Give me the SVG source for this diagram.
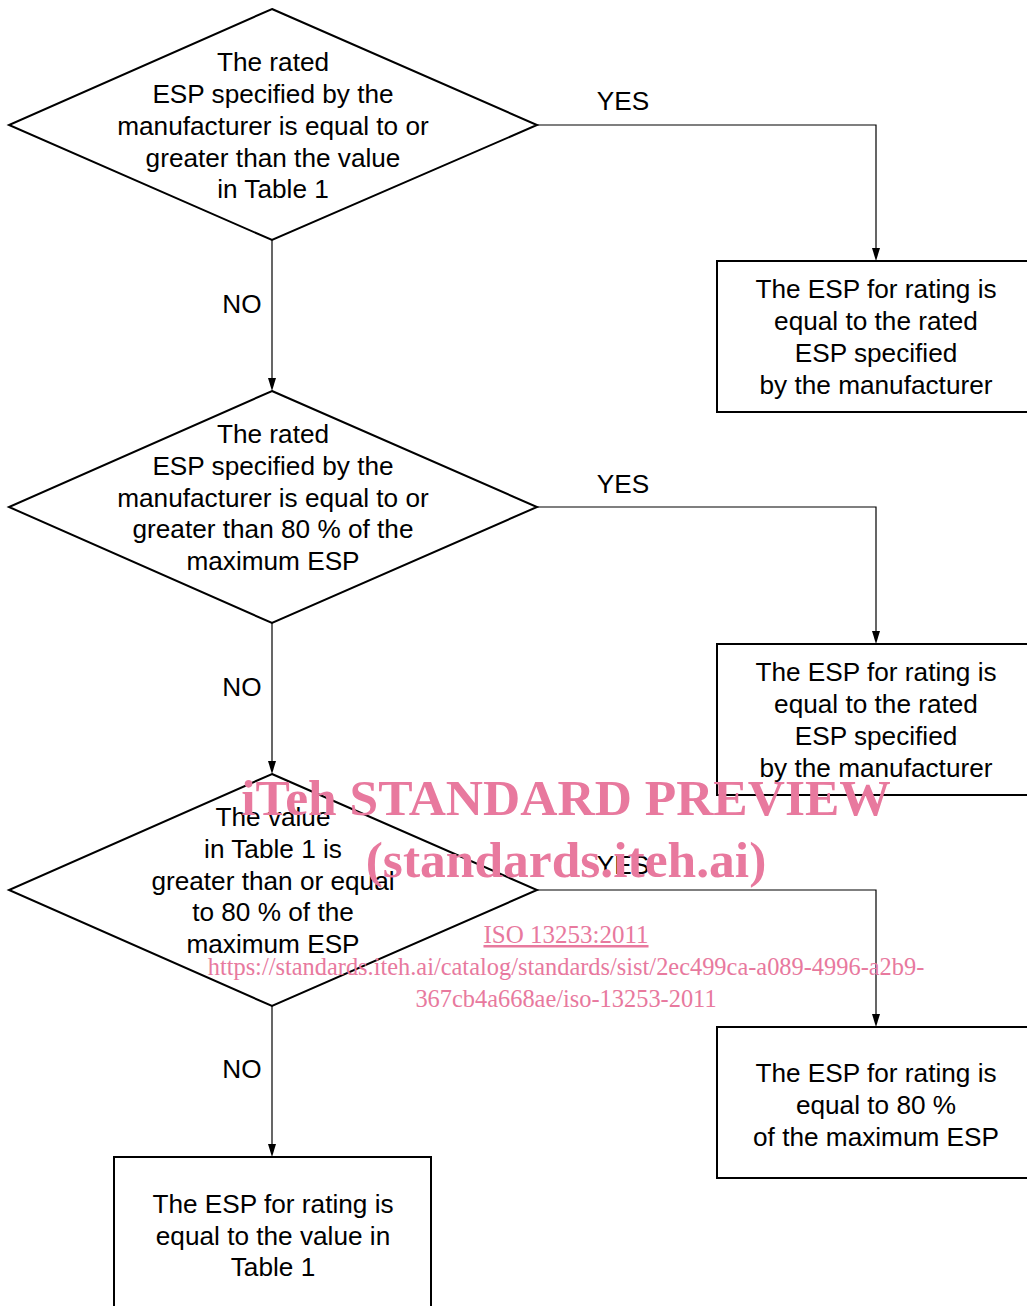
<svg xmlns="http://www.w3.org/2000/svg" width="1027" height="1306" viewBox="0 0 1027 1306">
<defs>
<style>
.shape{fill:#fff;stroke:#000;stroke-width:2}
.t{font-family:"Liberation Sans",Arial,sans-serif;font-size:26.2px;fill:#000;text-anchor:middle}
.c{fill:none;stroke:#000;stroke-width:1.2}
.ah{fill:#000;stroke:none}
.wm{font-family:"Liberation Serif","Times New Roman",serif;fill:#e8799e;text-anchor:middle}
</style>
</defs>
<rect width="1027" height="1306" fill="#fff"/>
<g id="connectors">
<path class="c" d="M537,125 H876 V252"/>
<path class="ah" d="M872,248 L880,248 L876,261 Z"/>
<path class="c" d="M272,240 V382"/>
<path class="ah" d="M268,378 L276,378 L272,391 Z"/>
<path class="c" d="M537,507 H876 V635"/>
<path class="ah" d="M872,631 L880,631 L876,644 Z"/>
<path class="c" d="M272,623 V765"/>
<path class="ah" d="M268,761 L276,761 L272,774 Z"/>
<path class="c" d="M537,890 H876 V1018"/>
<path class="ah" d="M872,1014 L880,1014 L876,1027 Z"/>
<path class="c" d="M272,1006 V1148"/>
<path class="ah" d="M268,1144 L276,1144 L272,1157 Z"/>
<text class="t" x="623" y="110">YES</text>
<text class="t" x="242" y="313">NO</text>
<text class="t" x="623" y="493">YES</text>
<text class="t" x="242" y="696">NO</text>
<text class="t" x="623" y="874">YES</text>
<text class="t" x="242" y="1078">NO</text>
</g>
<g id="d1">
<polygon class="shape" points="272,9 537,125 272,240 9,125"/>
<text class="t" x="273" y="71">The rated</text>
<text class="t" x="273" y="103">ESP specified by the</text>
<text class="t" x="273" y="135">manufacturer is equal to or</text>
<text class="t" x="273" y="167">greater than the value</text>
<text class="t" x="273" y="198">in Table 1</text>
</g>
<g id="b1">
<rect class="shape" x="717" y="261" width="320" height="151"/>
<text class="t" x="876" y="298">The ESP for rating is</text>
<text class="t" x="876" y="330">equal to the rated</text>
<text class="t" x="876" y="362">ESP specified</text>
<text class="t" x="876" y="394">by the manufacturer</text>
</g>
<g id="d2">
<polygon class="shape" points="272,391 537,507 272,623 9,507"/>
<text class="t" x="273" y="443">The rated</text>
<text class="t" x="273" y="475">ESP specified by the</text>
<text class="t" x="273" y="507">manufacturer is equal to or</text>
<text class="t" x="273" y="538">greater than 80 % of the</text>
<text class="t" x="273" y="570">maximum ESP</text>
</g>
<g id="b2">
<rect class="shape" x="717" y="644" width="320" height="151"/>
<text class="t" x="876" y="681">The ESP for rating is</text>
<text class="t" x="876" y="713">equal to the rated</text>
<text class="t" x="876" y="745">ESP specified</text>
<text class="t" x="876" y="777">by the manufacturer</text>
</g>
<g id="d3">
<polygon class="shape" points="272,774 537,890 272,1006 9,890"/>
<text class="t" x="273" y="826">The value</text>
<text class="t" x="273" y="858">in Table 1 is</text>
<text class="t" x="273" y="890">greater than or equal</text>
<text class="t" x="273" y="921">to 80 % of the</text>
<text class="t" x="273" y="953">maximum ESP</text>
</g>
<g id="b3">
<rect class="shape" x="717" y="1027" width="320" height="151"/>
<text class="t" x="876" y="1082">The ESP for rating is</text>
<text class="t" x="876" y="1114">equal to 80 %</text>
<text class="t" x="876" y="1146">of the maximum ESP</text>
</g>
<g id="b4">
<rect class="shape" x="114" y="1157" width="317" height="160"/>
<text class="t" x="273" y="1213">The ESP for rating is</text>
<text class="t" x="273" y="1245">equal to the value in</text>
<text class="t" x="273" y="1276">Table 1</text>
</g>
<g id="watermark">
<text class="wm" x="566" y="815" font-size="51.5" font-weight="bold">iTeh STANDARD PREVIEW</text>
<text class="wm" x="566" y="877" font-size="51.5" font-weight="bold">(standards.iteh.ai)</text>
<text class="wm" x="566" y="943" font-size="25" text-decoration="underline">ISO 13253:2011</text>
<text class="wm" x="566" y="975" font-size="24.4">https://standards.iteh.ai/catalog/standards/sist/2ec499ca-a089-4996-a2b9-</text>
<text class="wm" x="566" y="1007" font-size="24.4">367cb4a668ae/iso-13253-2011</text>
</g>
</svg>
